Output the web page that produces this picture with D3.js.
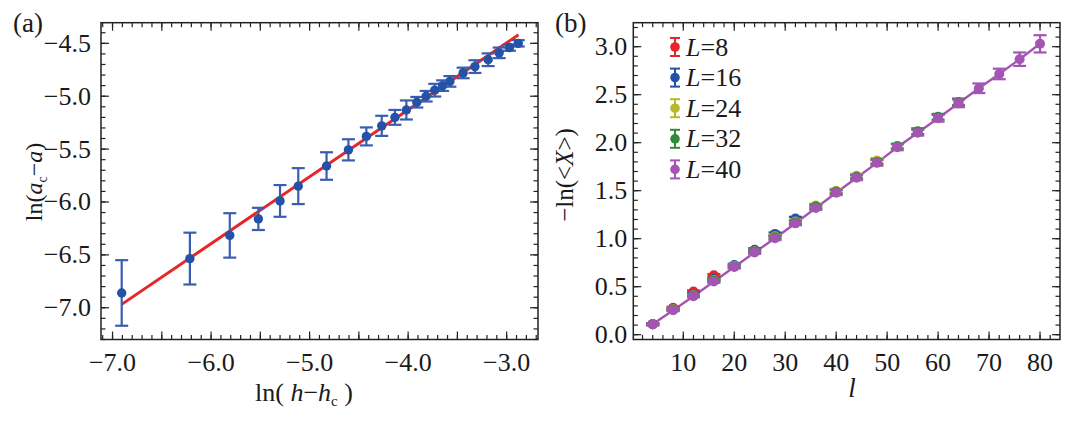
<!DOCTYPE html>
<html>
<head>
<meta charset="utf-8">
<script src="https://cdn.jsdelivr.net/npm/d3@7"></script>
<style>
  html, body { margin: 0; padding: 0; background: #fff; }
  svg { display: block; }
  text { font-family: "Liberation Serif", "DejaVu Serif", serif; fill: #1a1a1a; }
</style>
</head>
<body>
<svg id="chart" width="1080" height="426"></svg>
<script>
// ---------------- Panel (a) data ----------------
const aX = [-6.907, -6.215, -5.81, -5.52, -5.30, -5.115, -4.828, -4.606, -4.424, -4.268, -4.134, -4.018,
            -3.912, -3.817, -3.730, -3.650, -3.576, -3.442, -3.322, -3.188, -3.076, -2.972, -2.882];
const aY = [-6.86, -6.535, -6.316, -6.16, -5.99, -5.85, -5.66, -5.507, -5.38, -5.28, -5.20, -5.13,
            -5.057, -5.0, -4.943, -4.90, -4.86, -4.78, -4.72, -4.655, -4.59, -4.54, -4.50];
const aErr = [0.31, 0.245, 0.21, 0.105, 0.15, 0.17, 0.13, 0.10, 0.085, 0.095, 0.07, 0.09,
              0.05, 0.05, 0.06, 0.05, 0.05, 0.05, 0.06, 0.06, 0.05, 0.03, 0.03];
const fitX = [-6.907, -2.88];
const fitY = [-6.968, -4.42];
const aXTicks = [-7, -6, -5, -4, -3];
const aYTicks = [-7.0, -6.5, -6.0, -5.5, -5.0, -4.5];

// ---------------- Panel (b) data ----------------
const lVals = [4, 8, 12, 16, 20, 24, 28, 32, 36, 40, 44, 48, 52, 56, 60, 64, 68, 72, 76, 80];
const L8  = [0.11, 0.28, 0.45, 0.62];
const L16 = [0.11, 0.27, 0.42, 0.58, 0.725, 0.885, 1.05, 1.21];
const L24 = [0.11, 0.265, 0.41, 0.57, 0.715, 0.87, 1.025, 1.18, 1.345, 1.50, 1.655, 1.815];
const L32 = [0.11, 0.26, 0.405, 0.565, 0.71, 0.865, 1.015, 1.17, 1.335, 1.49, 1.645, 1.80, 1.965, 2.12, 2.27, 2.425];
const L40 = [0.11, 0.255, 0.40, 0.555, 0.705, 0.857, 1.005, 1.16, 1.32, 1.479, 1.635, 1.79, 1.952, 2.104, 2.254, 2.41, 2.567, 2.716, 2.87, 3.03];
const errSmall = [0.01, 0.01, 0.012, 0.012, 0.015, 0.015, 0.015, 0.018, 0.02, 0.02, 0.02, 0.025, 0.025, 0.03, 0.03, 0.035];
const L40err = [0.01, 0.01, 0.01, 0.015, 0.015, 0.015, 0.02, 0.02, 0.02, 0.025, 0.025, 0.03, 0.03, 0.03, 0.035, 0.04, 0.05, 0.055, 0.07, 0.09];
const seriesNames = ["L=8", "L=16", "L=24", "L=32", "L=40"];
const seriesColors = ["#e8262a", "#2350a8", "#b8b82a", "#2f8a3a", "#a455b4"];
const bXTicks = [10, 20, 30, 40, 50, 60, 70, 80];
const bYTicks = [0.0, 0.5, 1.0, 1.5, 2.0, 2.5, 3.0];

const svg = d3.select("#chart");
const fmt1 = d3.format(".1f");
const TICK_FS = 26;

function drawFrame(g, x, y, o) {
  const [x0, x1] = x.range();
  const [y0, y1] = y.range(); // y0 bottom, y1 top
  const axisColor = "#222";
  const majLen = 8, minLen = 4.5;
  const tickG = g.append("g").attr("stroke", axisColor).attr("stroke-width", 1.2);
  o.xMinor.forEach(v => {
    const px = x(v);
    tickG.append("line").attr("x1", px).attr("x2", px).attr("y1", y0).attr("y2", y0 - minLen);
    tickG.append("line").attr("x1", px).attr("x2", px).attr("y1", y1).attr("y2", y1 + minLen);
  });
  o.xMajor.forEach(v => {
    const px = x(v);
    tickG.append("line").attr("x1", px).attr("x2", px).attr("y1", y0).attr("y2", y0 - majLen);
    tickG.append("line").attr("x1", px).attr("x2", px).attr("y1", y1).attr("y2", y1 + majLen);
  });
  o.yMinor.forEach(v => {
    const py = y(v);
    tickG.append("line").attr("x1", x0).attr("x2", x0 + minLen).attr("y1", py).attr("y2", py);
    tickG.append("line").attr("x1", x1).attr("x2", x1 - minLen).attr("y1", py).attr("y2", py);
  });
  o.yMajor.forEach(v => {
    const py = y(v);
    tickG.append("line").attr("x1", x0).attr("x2", x0 + majLen).attr("y1", py).attr("y2", py);
    tickG.append("line").attr("x1", x1).attr("x2", x1 - majLen).attr("y1", py).attr("y2", py);
  });
  g.append("rect").attr("x", x0).attr("y", y1).attr("width", x1 - x0).attr("height", y0 - y1)
    .attr("fill", "none").attr("stroke", axisColor).attr("stroke-width", 1.5);
  o.xLabels.forEach(v => {
    g.append("text").attr("x", x(v)).attr("y", y0 + 31).attr("text-anchor", "middle")
      .attr("font-size", TICK_FS).text(o.xFmt(v));
  });
  o.yLabels.forEach(v => {
    g.append("text").attr("x", x0 - o.yPad).attr("y", y(v) + 8.5).attr("text-anchor", "end")
      .attr("font-size", TICK_FS).text(o.yFmt(v));
  });
}

function inRange(arr, dom) {
  const lo = Math.min(dom[0], dom[1]), hi = Math.max(dom[0], dom[1]);
  return arr.filter(v => v >= lo - 1e-9 && v <= hi + 1e-9);
}

// ================= Panel (a) =================
const xa = d3.scaleLinear().domain([-7.117, -2.682]).range([101, 538]);
const ya = d3.scaleLinear().domain([-7.30, -4.305]).range([339.5, 22.7]);
const ga = svg.append("g");

drawFrame(ga, xa, ya, {
  xMajor: inRange(d3.range(-7.5, -2.4, 0.5), xa.domain()),
  xMinor: inRange(d3.range(-7.5, -2.4, 0.1), xa.domain()),
  yMajor: inRange(d3.range(-7.5, -4.0, 0.5), ya.domain()),
  yMinor: inRange(d3.range(-7.5, -4.0, 0.1), ya.domain()),
  xLabels: aXTicks, yLabels: aYTicks, xFmt: fmt1, yFmt: fmt1, yPad: 10
});

ga.append("line")
  .attr("x1", xa(fitX[0])).attr("y1", ya(fitY[0]))
  .attr("x2", xa(fitX[1])).attr("y2", ya(fitY[1]))
  .attr("stroke", "#e8262a").attr("stroke-width", 3);

const aCol = "#3a5db2";
const aPts = aX.map((v, i) => ({x: v, y: aY[i], e: aErr[i]}));
const eb = ga.append("g").attr("stroke", aCol).attr("stroke-width", 2.2);
aPts.forEach(d => {
  const px = xa(d.x);
  eb.append("line").attr("x1", px).attr("x2", px).attr("y1", ya(d.y - d.e)).attr("y2", ya(d.y + d.e));
  eb.append("line").attr("x1", px - 6.5).attr("x2", px + 6.5).attr("y1", ya(d.y - d.e)).attr("y2", ya(d.y - d.e));
  eb.append("line").attr("x1", px - 6.5).attr("x2", px + 6.5).attr("y1", ya(d.y + d.e)).attr("y2", ya(d.y + d.e));
});
ga.selectAll("circle.pa").data(aPts).join("circle").attr("class", "pa")
  .attr("cx", d => xa(d.x)).attr("cy", d => ya(d.y)).attr("r", 4.7).attr("fill", "#2352a6");

ga.append("text").attr("x", 13).attr("y", 32).attr("font-size", 27).text("(a)");
const ta = ga.append("text").attr("transform", "translate(42,182) rotate(-90)")
  .attr("text-anchor", "middle").attr("font-size", 24);
ta.append("tspan").text("ln(");
ta.append("tspan").attr("font-style", "italic").text("a");
ta.append("tspan").attr("font-size", 14).attr("dy", 5).text("c");
ta.append("tspan").attr("dy", -5).text("\u2212");
ta.append("tspan").attr("font-style", "italic").text("a");
ta.append("tspan").text(")");

const txa = ga.append("text").attr("x", 304).attr("y", 401).attr("text-anchor", "middle").attr("font-size", 26);
txa.append("tspan").text("ln( ");
txa.append("tspan").attr("font-style", "italic").text("h");
txa.append("tspan").text("\u2212");
txa.append("tspan").attr("font-style", "italic").text("h");
txa.append("tspan").attr("font-size", 15).attr("dy", 5).text("c");
txa.append("tspan").attr("dy", -5).text(" )");

// ================= Panel (b) =================
const xb = d3.scaleLinear().domain([0.19, 83.92]).range([633.3, 1060]);
const yb = d3.scaleLinear().domain([-0.05, 3.25]).range([339.5, 22.7]);
const gb = svg.append("g");

drawFrame(gb, xb, yb, {
  xMajor: inRange(d3.range(0, 90, 10), xb.domain()),
  xMinor: inRange(d3.range(0, 90, 2), xb.domain()),
  yMajor: inRange(d3.range(0, 3.5, 0.5), yb.domain()),
  yMinor: inRange(d3.range(0, 3.3, 0.1), yb.domain()),
  xLabels: bXTicks, yLabels: bYTicks, xFmt: d3.format("d"), yFmt: fmt1, yPad: 6
});

const allSeries = [L8, L16, L24, L32, L40];
gb.append("path")
  .datum(L40.map((v, i) => [lVals[i], v]))
  .attr("d", d3.line().x(d => xb(d[0])).y(d => yb(d[1])))
  .attr("fill", "none").attr("stroke", seriesColors[4]).attr("stroke-width", 2.4);

allSeries.forEach((ser, si) => {
  const col = seriesColors[si];
  const errs = si === 4 ? L40err : errSmall;
  const pts = ser.map((v, i) => ({x: lVals[i], y: v, e: errs[i]}));
  const g = gb.append("g");
  const eg = g.append("g").attr("stroke", col).attr("stroke-width", 2.2);
  pts.forEach(d => {
    const px = xb(d.x);
    eg.append("line").attr("x1", px).attr("x2", px).attr("y1", yb(d.y - d.e)).attr("y2", yb(d.y + d.e));
    eg.append("line").attr("x1", px - 6.5).attr("x2", px + 6.5).attr("y1", yb(d.y - d.e)).attr("y2", yb(d.y - d.e));
    eg.append("line").attr("x1", px - 6.5).attr("x2", px + 6.5).attr("y1", yb(d.y + d.e)).attr("y2", yb(d.y + d.e));
  });
  g.selectAll("circle").data(pts).join("circle")
    .attr("cx", d => xb(d.x)).attr("cy", d => yb(d.y)).attr("r", 5).attr("fill", col);
});

const legY0 = 47, legDy = 30.6, legX = 675;
seriesNames.forEach((name, i) => {
  const cy = legY0 + i * legDy;
  const col = seriesColors[i];
  const lg = gb.append("g");
  lg.append("line").attr("x1", legX).attr("x2", legX).attr("y1", cy - 9).attr("y2", cy + 9).attr("stroke", col).attr("stroke-width", 2);
  lg.append("line").attr("x1", legX - 5).attr("x2", legX + 5).attr("y1", cy - 9).attr("y2", cy - 9).attr("stroke", col).attr("stroke-width", 2);
  lg.append("line").attr("x1", legX - 5).attr("x2", legX + 5).attr("y1", cy + 9).attr("y2", cy + 9).attr("stroke", col).attr("stroke-width", 2);
  lg.append("circle").attr("cx", legX).attr("cy", cy).attr("r", 4.8).attr("fill", col);
  const t = lg.append("text").attr("x", legX + 11).attr("y", cy + 8.5).attr("font-size", 26);
  const parts = name.split("=");
  t.append("tspan").attr("font-style", "italic").text(parts[0]);
  t.append("tspan").text("=" + parts[1]);
});

gb.append("text").attr("x", 555).attr("y", 32).attr("font-size", 27).text("(b)");
const tb = gb.append("text").attr("transform", "translate(573,175) rotate(-90)")
  .attr("text-anchor", "middle").attr("font-size", 25);
tb.append("tspan").text("\u2212ln(<");
tb.append("tspan").attr("font-style", "italic").text("X");
tb.append("tspan").text(">)");

gb.append("text").attr("x", 852).attr("y", 397).attr("text-anchor", "middle")
  .attr("font-size", 27).attr("font-style", "italic").text("l");
</script>
</body>
</html>
